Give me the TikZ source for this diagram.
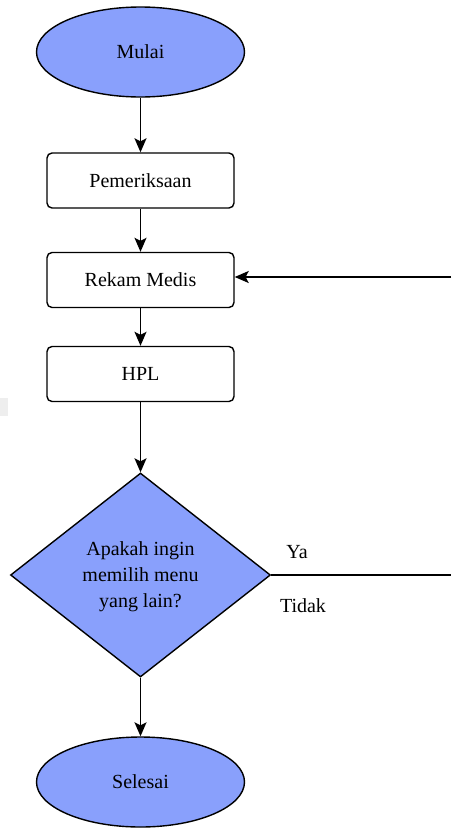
\documentclass[tikz,border=0pt]{standalone}
\usepackage{fontspec}
\setmainfont{Liberation Serif}
\usetikzlibrary{shapes.geometric,arrows.meta}
\definecolor{flowblue}{RGB}{137,160,252}
\definecolor{edgegray}{RGB}{238,238,238}
\tikzset{
  terminal/.style={ellipse,draw=black,line width=1.4pt,fill=flowblue,inner sep=0pt,
    minimum width=208pt,minimum height=90pt,font=\fontsize{20}{22}\selectfont},
  process/.style={rectangle,rounded corners=5pt,draw=black,line width=1.4pt,fill=white,
    inner sep=0pt,minimum width=187pt,minimum height=55pt,font=\fontsize{20}{22}\selectfont},
  decision/.style={diamond,draw=black,line width=1.4pt,fill=flowblue,inner sep=0pt,
    minimum width=260pt,minimum height=204pt},
  txt/.style={inner sep=0pt,font=\fontsize{20}{26}\selectfont,align=center},
  flow/.style={line width=1.4pt,-{Stealth[length=14pt,width=12pt,inset=3pt]}},
  plain/.style={line width=1.4pt}
}
\begin{document}
\begin{tikzpicture}[x=1pt,y=-1pt]
  \useasboundingbox[fill=white] (0,0) rectangle (451,830);
  % faint patch at the left margin
  \fill[edgegray] (0,398) rectangle (8,416);

  \node[terminal] (mulai) at (140.5,52) {Mulai};
  \node[process] (pem) at (140.5,180.5) {Pemeriksaan};
  \node[process] (rekam) at (140.5,280) {Rekam Medis};
  \node[process] (hpl) at (140.5,374) {HPL};
  \node[decision] (dec) at (140.5,575) {};
  \node[txt] (dectext) at (140.5,577) {Apakah ingin\\memilih menu\\yang lain?};
  \node[terminal] (selesai) at (140.5,782) {Selesai};

  \coordinate (loopin) at (451,277);
  \coordinate (loopout) at (451,575);

  \draw[flow] (mulai.south) -- (pem.north);
  \draw[flow] (pem.south) -- (rekam.north);
  \draw[flow] (rekam.south) -- (hpl.north);
  \draw[flow] (hpl.south) -- (dec.north);
  \draw[flow] (dec.south) -- (selesai.north);
  \draw[flow] (loopin) -- (loopin -| rekam.east);
  \draw[plain] (dec.east) -- (loopout);

  \node[txt] (ya) at (297,552) {Ya};
  \node[txt] (tidak) at (303,606) {Tidak};
\end{tikzpicture}
\end{document}
